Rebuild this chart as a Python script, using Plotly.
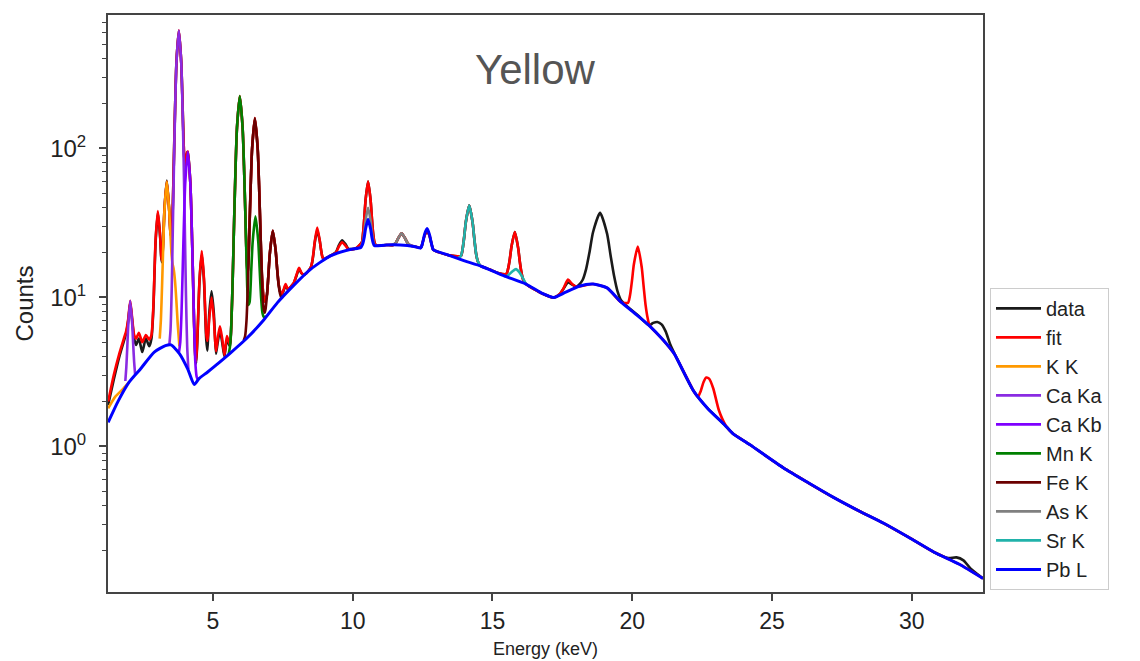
import plotly.graph_objects as go

# ---------------- values (energy keV, counts) ----------------
data_pts = [
    (1.25, 1.9), (1.45, 2.8), (1.65, 4.0), (1.8, 5.0), (1.9, 5.8), (1.97, 7.0), (2.04, 9.2), (2.11, 7.0),
    (2.18, 5.3), (2.25, 4.8), (2.35, 5.3), (2.47, 4.3), (2.6, 5.3), (2.72, 4.7), (2.8, 5.3), (2.87, 8.5),
    (2.91, 14.8), (2.95, 24), (3.03, 37), (3.11, 25.5), (3.15, 18.5), (3.18, 17.2), (3.2225, 24),
    (3.265, 39), (3.35, 61), (3.435, 38.5), (3.4825, 27), (3.525, 25.6), (3.5675, 43.7), (3.61, 98),
    (3.6525, 212), (3.695, 383), (3.78, 615), (3.865, 380), (3.9075, 213), (3.95, 110), (3.9925, 75),
    (4.035, 81), (4.0775, 94), (4.1, 94), (4.19, 59), (4.235, 33), (4.28, 15.3), (4.325, 6.8),
    (4.37, 4.0), (4.4, 3.6), (4.44, 5.0), (4.48, 8.2), (4.52, 13), (4.6, 19.5), (4.68, 12.8),
    (4.72, 8.0), (4.76, 5.2), (4.8, 4.4), (4.83, 5.6), (4.87, 7.9), (4.95, 11), (5.03, 7.9),
    (5.07, 5.6), (5.11, 4.2), (5.17, 5.0), (5.25, 6.0), (5.33, 5.0), (5.41, 4.0), (5.5, 5.2),
    (5.61, 4.7), (5.66, 6.8), (5.71, 14.1), (5.76, 34.3), (5.81, 75.8), (5.86, 138), (5.96, 222),
    (6.06, 139), (6.11, 77), (6.16, 36), (6.21, 17.3), (6.25, 14), (6.3, 27), (6.35, 56), (6.4, 99.4),
    (6.5, 157), (6.6, 100), (6.65, 56.6), (6.7, 27.6), (6.75, 14.5), (6.8, 10.5), (6.85, 9.4),
    (6.93, 10.4), (6.98, 13.9), (7.035, 19.8), (7.14, 28), (7.245, 20.5), (7.3, 15.3), (7.35, 12.3),
    (7.4, 11), (7.45, 10.5), (7.52, 11.0), (7.6, 12.0), (7.68, 11.3), (7.75, 11.6), (7.85, 12.2),
    (7.9, 12.6), (7.99, 14.0), (8.08, 15.5), (8.17, 14.5), (8.26, 14.2), (8.35, 14.6), (8.42, 15.1),
    (8.505, 16.0), (8.55, 17.2), (8.595, 19.6), (8.64, 23.2), (8.73, 28.2), (8.82, 24.0), (8.865, 21),
    (8.91, 18.9), (8.955, 18.05), (9.1, 18.6), (9.4, 20.2), (9.5, 22.3), (9.62, 24.2), (9.74, 22.8),
    (9.85, 21.2), (10.1, 21.3), (10.325, 23.4), (10.37, 26.9), (10.415, 34.2), (10.46, 45), (10.55, 60),
    (10.64, 45), (10.685, 34.2), (10.73, 27), (10.775, 23.6), (10.84, 22.3), (11.2, 22.5), (11.45, 22.5),
    (11.53, 23.1), (11.64, 25.2), (11.75, 27), (11.86, 25.2), (11.97, 23.1), (12.05, 22.4), (12.2, 22.0),
    (12.435, 21.5), (12.48, 22.5), (12.525, 24.3), (12.57, 26.0), (12.66, 28), (12.75, 25.9),
    (12.795, 24.0), (12.84, 22.1), (12.885, 20.9), (13.4, 19.3), (13.87, 19.0), (13.93, 21.05),
    (13.99, 25.6), (14.05, 32.35), (14.17, 41.5), (14.29, 31.8), (14.35, 24.8), (14.41, 19.9),
    (14.47, 17.6), (14.55, 16.4), (14.9, 15.4), (15.2, 14.6), (15.5, 14.4), (15.56, 15.6), (15.62, 18.05),
    (15.68, 21.9), (15.8, 27.5), (15.92, 21.45), (15.98, 17.3), (16.04, 14.6), (16.1, 13.15), (16.2, 12.3),
    (16.8, 10.6), (17.2, 10.0), (17.4, 10.5), (17.55, 11.5), (17.7, 12.6), (17.85, 12.2), (18.0, 11.8),
    (18.1, 12.2), (18.225, 13.1), (18.35, 15.5), (18.475, 20.3), (18.6, 27.5), (18.85, 37), (19.1, 26.8),
    (19.225, 19.2), (19.35, 14.0), (19.475, 11.0), (19.6, 9.6), (19.85, 8.6), (20.2, 7.6), (20.6, 6.5),
    (20.75, 6.75), (20.9, 6.85), (21.05, 6.6), (21.2, 5.9), (21.35, 4.9), (21.5, 4.25), (22.2, 2.35),
    (22.7, 1.8), (23.3, 1.4), (23.6, 1.22), (24.2, 1.03), (25.4, 0.72), (26.3, 0.57), (27.2, 0.455),
    (28.1, 0.37), (29.0, 0.305), (29.9, 0.245), (30.8, 0.195), (31.3, 0.178), (31.6, 0.18),
    (31.85, 0.172), (32.1, 0.152), (32.55, 0.13),
]

fit_pts = [
    (1.25, 2.0), (1.45, 3.0), (1.65, 4.2), (1.8, 5.2), (1.9, 6.0), (1.97, 7.2), (2.04, 9.5), (2.11, 7.2),
    (2.18, 5.6), (2.25, 5.3), (2.35, 5.8), (2.47, 5.0), (2.6, 5.6), (2.72, 5.2), (2.8, 5.6), (2.87, 8.9),
    (2.91, 15.3), (2.95, 24.8), (3.03, 38), (3.11, 25.9), (3.15, 18.8), (3.18, 17.7), (3.2225, 24.4),
    (3.265, 39), (3.35, 60), (3.435, 38.5), (3.4825, 27), (3.525, 25.6), (3.5675, 43.7), (3.61, 98),
    (3.6525, 212), (3.695, 383), (3.78, 622), (3.865, 380), (3.9075, 213), (3.95, 110), (3.9925, 75),
    (4.035, 81), (4.0775, 94.4), (4.1, 95.5), (4.19, 59), (4.235, 33), (4.28, 15.3), (4.325, 6.8),
    (4.37, 4.0), (4.4, 3.75), (4.44, 5.3), (4.48, 8.5), (4.52, 13.3), (4.6, 20.5), (4.68, 13.3),
    (4.72, 8.6), (4.76, 5.7), (4.8, 5.1), (4.83, 5.7), (4.87, 7.3), (4.95, 10), (5.03, 7.3),
    (5.07, 5.4), (5.11, 4.35), (5.17, 5.3), (5.25, 6.4), (5.33, 5.3), (5.41, 4.1), (5.5, 5.5),
    (5.61, 4.8), (5.66, 6.8), (5.71, 14.1), (5.76, 34.3), (5.81, 75.8), (5.86, 138), (5.96, 225),
    (6.06, 139), (6.11, 77), (6.16, 36), (6.21, 17.3), (6.25, 14), (6.3, 27), (6.35, 56), (6.4, 99.4),
    (6.5, 160), (6.6, 100), (6.65, 56.6), (6.7, 27.6), (6.75, 14.5), (6.8, 10.5), (6.85, 9.4),
    (6.93, 10.4), (6.98, 13.9), (7.035, 19.8), (7.14, 28), (7.245, 20.5), (7.3, 15.3), (7.35, 12.3),
    (7.4, 11), (7.45, 10.5), (7.52, 11.2), (7.6, 12.3), (7.68, 11.4), (7.75, 11.6), (7.85, 12.2),
    (7.9, 12.6), (7.99, 14.2), (8.08, 15.8), (8.17, 14.6), (8.26, 14.2), (8.35, 14.6), (8.42, 15.1),
    (8.505, 16.0), (8.55, 17.35), (8.595, 19.9), (8.64, 23.5), (8.73, 29.5), (8.82, 24.2), (8.865, 21),
    (8.91, 18.9), (8.955, 18.05), (9.1, 18.6), (9.4, 20.0), (9.5, 21.9), (9.62, 23.5), (9.74, 22.3),
    (9.85, 21.0), (10.1, 21.3), (10.325, 23.4), (10.37, 26.9), (10.415, 34.2), (10.46, 45), (10.55, 60),
    (10.64, 45), (10.685, 34.2), (10.73, 27), (10.775, 23.6), (10.84, 22.3), (11.2, 22.5), (11.45, 22.5),
    (11.53, 23.1), (11.64, 25.2), (11.75, 27), (11.86, 25.2), (11.97, 23.1), (12.05, 22.4), (12.2, 22.0),
    (12.435, 21.5), (12.48, 22.5), (12.525, 24.3), (12.57, 26.0), (12.66, 28.5), (12.75, 25.9),
    (12.795, 24.0), (12.84, 22.1), (12.885, 20.9), (13.4, 19.3), (13.87, 19.0), (13.93, 21.05),
    (13.99, 25.6), (14.05, 32.35), (14.17, 41.5), (14.29, 31.8), (14.35, 24.8), (14.41, 19.9),
    (14.47, 17.6), (14.55, 16.4), (14.9, 15.4), (15.2, 14.6), (15.5, 14.4), (15.56, 15.6), (15.62, 18.05),
    (15.68, 21.9), (15.8, 27.5), (15.92, 21.45), (15.98, 17.3), (16.04, 14.6), (16.1, 13.15), (16.2, 12.3),
    (16.8, 10.6), (17.2, 10.0), (17.4, 10.5), (17.55, 11.6), (17.7, 13.2), (17.85, 12.3), (18.0, 11.8),
    (18.6, 12.3), (19.1, 11.6), (19.6, 9.3), (19.85, 9.2), (19.92, 10.3), (19.99, 12.9), (20.06, 16.7),
    (20.2, 22), (20.34, 15.95), (20.41, 11.8), (20.48, 8.85), (20.55, 7.3), (20.62, 6.5), (21.1, 5.2),
    (21.5, 4.2), (22.2, 2.35), (22.35, 2.15), (22.45, 2.35), (22.55, 2.7), (22.65, 2.9), (22.75, 2.85),
    (22.9, 2.45), (23.1, 1.75), (23.35, 1.38), (23.6, 1.22), (24.2, 1.03), (25.4, 0.72), (26.3, 0.57),
    (27.2, 0.455), (28.1, 0.37), (29.0, 0.305), (29.9, 0.245), (30.8, 0.195), (31.7, 0.162), (32.55, 0.13),
]

kk_E = [1.25, 1.5, 1.8, 2.0, None, 3.095, 3.1375, 3.18, 3.2225, 3.265, 3.35, 3.435, 3.4775, 3.52, 3.56,
        3.59, 3.64, 3.69, 3.74, 3.8]
kk_y = [1.8, 2.15, 2.45, 2.7, None, 5.3, 7.1, 12.1, 22.6, 38, 60, 38, 26.8, 19.2, 16.6,
        15.7, 13.1, 9.6, 6.6, 4.7]

caka_E = [1.865, 1.9, 1.935, 1.97, 2.04, 2.11, 2.145, 2.18, 2.215, None, 3.44, 3.4825, 3.525, 3.5675,
          3.61, 3.6525, 3.695, 3.78, 3.865, 3.9075, 3.95, 3.9925, 4.035, 4.0775, 4.12]
caka_y = [2.75, 3.4, 4.65, 6.5, 9.5, 6.65, 4.9, 3.7, 3.05, None, 4.8, 6.1, 11.5, 31.7,
          88, 205, 378, 620, 377, 204, 87, 30.5, 10.3, 4.7, 3.3]

cakb_E = [3.785, 3.83, 3.875, 3.92, 3.965, 4.01, 4.1, 4.19, 4.235, 4.28, 4.325, 4.37, 4.415, 4.46]
cakb_y = [4.3, 5.0, 7.9, 16.2, 33.5, 59.3, 95, 58.8, 32.8, 15.2, 6.6, 3.65, 2.95, 2.8]

mn_E = [5.56, 5.61, 5.66, 5.71, 5.76, 5.81, 5.86, 5.96, 6.06, 6.11, 6.16, 6.21, 6.26, 6.31, 6.37, 6.42,
        6.52, 6.62, 6.67, 6.72, 6.77, 6.82, 6.9]
mn_y = [4.15, 4.7, 6.8, 14.1, 34.3, 75.8, 138, 225, 139, 77, 35.5, 15.3, 8.9, 9.3, 15.2, 23.5,
        35, 23.8, 15.6, 10.2, 7.9, 7.4, 7.45]

fe_E = [6.1, 6.15, 6.2, 6.25, 6.3, 6.35, 6.4, 6.5, 6.6, 6.65, 6.7, 6.75, 6.8, 6.85, 6.88, 6.93, 6.98,
        7.035, 7.14, 7.245, 7.3, 7.35, 7.4, 7.45, 7.5]
fe_y = [5.15, 5.5, 7.0, 12.25, 26.4, 55.75, 99.4, 160, 100, 56.6, 27.6, 13.75, 8.8, 7.9, 8.3, 10.2, 13.7,
        19.6, 28, 20.5, 15.2, 12.1, 10.6, 9.95, 10.1]

as_E = [10.28, 10.325, 10.37, 10.415, 10.46, 10.55, 10.64, 10.685, 10.73, 10.775, 10.84, None,
        11.4, 11.53, 11.64, 11.75, 11.86, 11.97, 12.1]
as_y = [21.6, 22.5, 24.2, 27.65, 32.8, 40, 32.8, 27.65, 24.2, 22.6, 22.2, None,
        22.5, 23.1, 25.2, 27, 25.2, 23.1, 22.3]

sr_E = [13.75, 13.87, 13.93, 13.99, 14.05, 14.17, 14.29, 14.35, 14.41, 14.47, 14.55, None,
        15.4, 15.5, 15.6, 15.72, 15.84, 15.96, 16.08, 16.2]
sr_y = [18.3, 19.0, 21.05, 25.6, 32.35, 41.5, 31.8, 24.8, 19.9, 17.6, 16.4, None,
        14.0, 13.9, 14.3, 15.0, 15.5, 14.8, 13.6, 12.3]

pb_E = [1.25, 1.6, 2.0, 2.4, 2.9, 3.3, 3.5, 3.8, 4.1, 4.33, 4.5, 4.8, 5.1, 5.6, 6.2, 6.8, 7.3,
        7.8, 8.5, 9.2, 9.9, 10.28, 10.325, 10.37, 10.415, 10.46, 10.55, 10.64, 10.685, 10.73, 10.775,
        10.84, 11.2, 11.7, 12.2, 12.435, 12.48, 12.525, 12.57, 12.66, 12.75, 12.795, 12.84, 12.885,
        13.4, 14.0, 14.6, 15.4, 16.2, 16.8, 17.2, 17.6, 18.1, 18.6, 19.1, 19.6, 20.1, 20.6, 21.1,
        21.5, 22.2, 22.7, 23.3, 23.6, 24.2, 25.4, 26.3, 27.2, 28.1, 29.0, 29.9, 30.8, 31.7, 32.55]
pb_y = [1.45, 2.0, 2.7, 3.3, 4.3, 4.75, 4.8, 4.2, 3.3, 2.6, 2.85, 3.15, 3.5, 4.2, 5.3, 7.0, 9.2,
        11.6, 15.5, 19.0, 21.0, 21.6, 22.2, 23.3, 25.5, 28.9, 33.5, 28.9, 25.5, 23.3, 22.3,
        22.2, 22.5, 22.5, 22.0, 21.5, 22.5, 24.3, 26.5, 29, 26.3, 24.0, 22.1, 20.9,
        19.3, 17.6, 16.2, 14.0, 12.3, 10.6, 10.0, 10.8, 11.9, 12.3, 11.6, 9.3, 7.8, 6.5, 5.2,
        4.2, 2.35, 1.8, 1.4, 1.22, 1.03, 0.72, 0.57, 0.455, 0.37, 0.305, 0.245, 0.195, 0.162, 0.13]

data_E = [p[0] for p in data_pts]
data_y = [p[1] for p in data_pts]
fit_E = [p[0] for p in fit_pts]
fit_y = [p[1] for p in fit_pts]

series = [
    ("data", data_E, data_y, "#1a1a1a"),
    ("fit", fit_E, fit_y, "#ff0000"),
    ("K K", kk_E, kk_y, "#ff9900"),
    ("Ca Ka", caka_E, caka_y, "#8a2be2"),
    ("Ca Kb", cakb_E, cakb_y, "#7f00ff"),
    ("Mn K", mn_E, mn_y, "#008000"),
    ("Fe K", fe_E, fe_y, "#6b0000"),
    ("As K", as_E, as_y, "#808080"),
    ("Sr K", sr_E, sr_y, "#20b2aa"),
    ("Pb L", pb_E, pb_y, "#0000ff"),
]

x_ticks = [5, 10, 15, 20, 25, 30]
y_ticks = [1, 10, 100]
y_tick_text = ["10<sup>0</sup>", "10<sup>1</sup>", "10<sup>2</sup>"]
y_minor = [m * d for d in (0.1, 1, 10, 100) for m in range(2, 10)]

fig = go.Figure()
for name, xs, ys, col in series:
    fig.add_trace(go.Scatter(
        x=xs, y=ys, mode="lines", name=name, connectgaps=False,
        line=dict(color=col, width=3 if name == "Pb L" else 2.6, shape="spline", smoothing=0.6),
    ))

axis_col = "#444444"
fig.update_layout(
    # page body has an 8px margin: size/margins chosen so the plot area lands where the reference has it
    width=1132, height=653,
    margin=dict(l=100, r=157, t=5, b=69),
    paper_bgcolor="white", plot_bgcolor="white",
    showlegend=True,
    legend=dict(
        x=1.008, y=0.527, xanchor="left", yanchor="top",
        font=dict(family="Liberation Sans, Arial, sans-serif", size=20, color="#222"),
        bordercolor="#cccccc", borderwidth=1, bgcolor="white",
        tracegroupgap=0, itemwidth=45,
    ),
    annotations=[dict(
        text="Yellow", xref="paper", yref="paper", x=0.488, y=0.905,
        xanchor="center", yanchor="middle", showarrow=False,
        font=dict(family="Liberation Sans, Arial, sans-serif", size=42, color="#555555"),
    )],
)
fig.update_xaxes(
    range=[1.245, 32.55], tickvals=x_ticks, ticks="outside", ticklen=7, tickwidth=1.5,
    tickcolor=axis_col, showline=True, linecolor=axis_col, linewidth=2, mirror=True,
    showgrid=False, zeroline=False, ticklabelstandoff=0,
    tickfont=dict(family="Liberation Sans, Arial, sans-serif", size=23, color="#222"),
    title=dict(text="Energy (keV)", standoff=10,
               font=dict(family="Liberation Sans, Arial, sans-serif", size=18, color="#222")),
)
fig.update_yaxes(
    type="log", range=[-0.977, 2.896], tickvals=y_ticks, ticktext=y_tick_text,
    ticks="outside", ticklen=7, tickwidth=1.5, tickcolor=axis_col,
    minor=dict(tickvals=y_minor, ticks="outside", ticklen=4, tickcolor=axis_col, tickwidth=1),
    showline=True, linecolor=axis_col, linewidth=2, mirror=True,
    showgrid=False, zeroline=False, ticklabelstandoff=8,
    tickfont=dict(family="Liberation Sans, Arial, sans-serif", size=24, color="#222"),
    title=dict(text="Counts", standoff=10,
               font=dict(family="Liberation Sans, Arial, sans-serif", size=24, color="#222")),
)

fig.write_html("out.html")
